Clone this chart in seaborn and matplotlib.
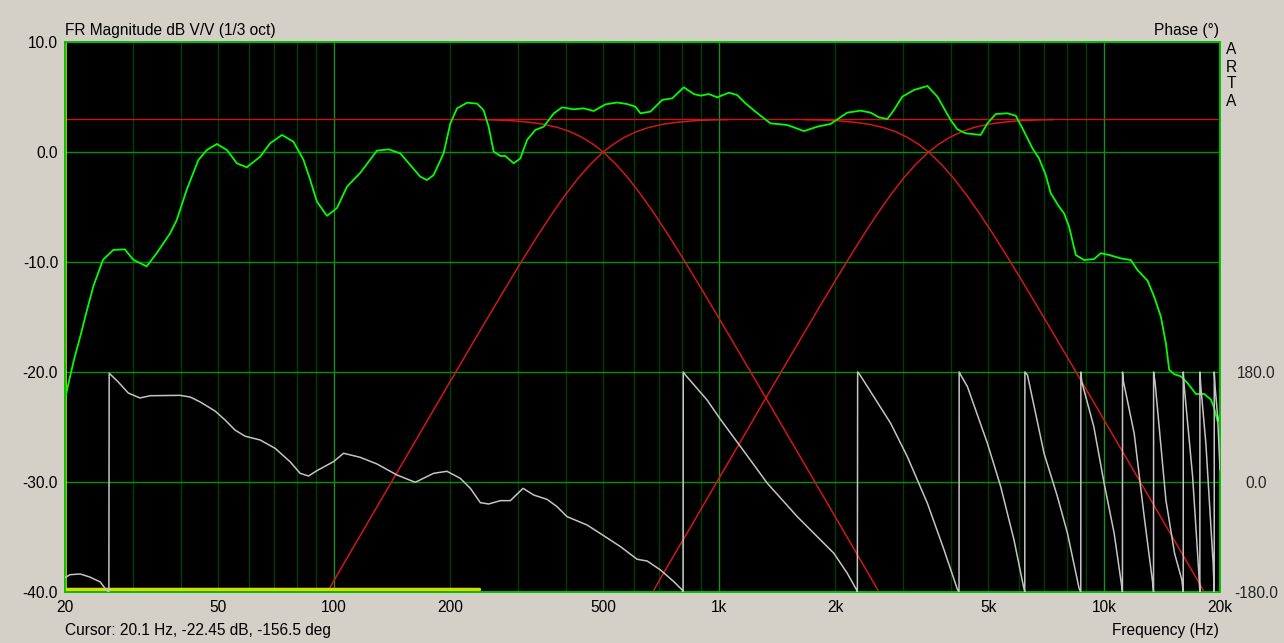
import matplotlib
matplotlib.use("Agg")
import matplotlib.pyplot as plt
import numpy as np
import pandas as pd
import seaborn as sns

# ---------------- data ----------------
mag_freq = [20.0, 20.6, 21.1, 21.9, 22.8, 23.7, 25.1, 26.7, 28.6, 30.1, 32.6, 34.6, 37.5, 39.0,
            41.4, 44.4, 46.7, 49.6, 52.7, 55.9, 59.3, 64.3, 68.2, 73.2, 78.4, 83.3, 86.7, 90.2,
            95.8, 101.7, 108.0, 116.9, 129.2, 138.5, 148.5, 157.7, 167.4, 174.2, 181.3, 192.5,
            200.4, 208.6, 221.4, 235.1, 244.5, 252.0, 259.7, 270.3, 278.5, 292.7, 304.6, 317.1,
            333.2, 350.2, 371.8, 391.0, 419.2, 445.0, 472.4, 506.6, 543.4, 576.9, 606.3, 624.7,
            663.2, 711.4, 755.4, 809.8, 859.6, 894.8, 940.2, 988.6, 1060, 1114, 1171, 1243,
            1307, 1361, 1444, 1503, 1564, 1661, 1799, 1948, 2028, 2153, 2331, 2475, 2601, 2735,
            2845, 2992, 3207, 3476, 3690, 3839, 3995, 4158, 4370, 4780, 4976, 5230, 5610, 5895,
            6137, 6515, 6776, 7054, 7268, 7638, 7871, 8110, 8442, 8872, 9419, 9804, 10300,
            11050, 11730, 12210, 12970, 13490, 14040, 14470, 14760, 15210, 15830, 16470,
            17310, 18200, 18940, 19320, 19720, 19990]
mag_db = [-22.45, -20.45, -18.9, -16.8, -14.4, -12.2, -9.8, -8.9, -8.85, -9.8, -10.4, -9.2, -7.4, -6.2,
          -3.45, -0.73, 0.18, 0.73, 0.18, -1.03, -1.39, -0.42, 0.79, 1.55, 0.94, -0.73, -2.55, -4.5,
          -5.8, -5.1, -3.15, -1.9, 0.12, 0.24, -0.12, -1.18, -2.24, -2.55, -2.1, -0.12,
          2.6, 3.97, 4.48, 4.4, 3.8, 2.3, 0.03, -0.36, -0.36, -1.03, -0.58, 1.1,
          2.0, 2.3, 3.5, 4.06, 3.88, 3.97, 3.73, 4.33, 4.5, 4.36, 4.12, 3.52,
          3.67, 4.73, 4.88, 5.88, 5.27, 5.12, 5.27, 4.97, 5.39, 5.18, 4.42, 3.67,
          3.06, 2.6, 2.52, 2.45, 2.24, 1.9, 2.3, 2.55, 2.97, 3.58, 3.76, 3.58, 3.15, 3.0,
          3.82, 5.03, 5.64, 6.0, 5.03, 3.97, 2.9, 2.06, 1.7, 1.55, 2.6, 3.45, 3.52, 3.3,
          2.15, 0.33, -0.58, -2.1, -3.75, -4.97, -5.58, -6.79, -9.36, -9.82, -9.73, -9.2, -9.36,
          -9.67, -9.82, -10.73, -11.7, -13.15, -14.97, -17.4, -19.8, -20.2, -20.4, -21.0,
          -22.0, -22.0, -22.5, -23.3, -24.5, -23.9]

phase_freq = [20.0, 20.6, 21.9, 23.2, 24.7, 25.6, 26.0, 26.05, 27.5, 29.2, 31.3, 33.3, 39.8, 42.3,
              44.9, 49.1, 52.1, 55.3, 58.7, 64.3, 70.3, 76.9, 81.6, 85.8, 90.2, 99.6, 105.8,
              116.9, 129.2, 145.6, 162.5, 181.3, 196.4, 212.7, 225.9, 239.8, 252.0, 270.3, 286.9,
              309.6, 329.9, 357.4, 379.4, 402.8, 454.2, 501.4, 554.4, 612.7, 650.5, 704.4, 762.6,
              802, 806.5, 807, 817.8, 877, 931, 1004, 1137, 1334, 1596, 1987, 2153, 2276,
              2286, 2290, 2314, 2475, 2790, 3083, 3476, 3839, 4158, 4199, 4203, 4242, 4416,
              4976, 5389, 5835, 6174, 6222, 6226, 6324, 6982, 7565, 8033, 8610, 8698, 8702,
              8750, 9404, 10000, 10620, 11100, 11160, 11165, 11230, 11970, 12710, 13360, 13440,
              13445, 13560, 14470, 15240, 15920, 16050, 16055, 16150, 16980, 17600, 17730,
              17735, 17820, 18380, 18940, 19200, 19320, 19325, 19420, 19720, 20000]
phase_deg = [-156.5, -151.7, -150.5, -155.5, -163.6, -176.7, -180, 178, 163.6, 145.6, 137.5, 141.2, 141.8, 139,
             131, 116, 101.5, 85, 75, 68.7, 55, 33, 14.2, 9.8, 18.5, 33.2, 47,
             40.4, 29.5, 11.5, -0.5, 14.2, 17.5, 6, -10.4, -33.8, -36, -30.5, -30.5,
             -10.4, -21.3, -28.4, -40.4, -56.7, -70.4, -87.8, -105.8, -126.5, -129.3, -144, -163,
             -176.7, -180, 180, 175, 153, 134, 104, 57.8, -2, -56.7, -116.7, -149.5, -176.7,
             -180, 180, 176.7, 147.8, 96, 41.4, -34.9, -111, -175.6, -180, 180, 175, 156,
             63.3, -7.7, -95, -171, -180, 180, 175, 47, -24, -84, -174, -180, 180,
             164, 90.5, -2, -84, -168.5, -180, 180, 164, 79.6, -56.7, -163, -180,
             180, 164, -29.5, -116.7, -160, -180, 180, 156, 8.7, -144, -180,
             180, 158.7, 63, -73, -133, -180, 180, 156, 107, 19.6]

target_db = [2.95, 2.92, 2.84, 2.71, 2.52, 2.24, 1.85, 1.34, 0.72, 0.0, -1.13, -2.36, -3.99, -5.65,
             -7.61, -9.50, -11.59, -13.82, -16.14, -18.51, -20.89, -23.46, -25.98, -28.58, -31.23,
             -33.89, -36.54, -39.15, -40.0]
lp_low_freq = [237, 260, 290, 320, 350, 380, 410, 440, 470, 500, 540, 580, 630, 680, 740, 800, 870,
               950, 1040, 1140, 1250, 1380, 1520, 1680, 1860, 2060, 2280, 2520, 2600]
hp_mid_freq = [96.2, 99.2, 109.6, 121.4, 134.4, 148.8, 164.5, 181.2, 200.0, 219.3, 240.4, 263.2,
               287.4, 312.5, 337.8, 367.6, 396.8, 431.0, 463.0, 500.0, 531.9, 568.2, 609.8, 657.9,
               714.3, 781.3, 862.1, 961.5, 1055]
lp_mid_freq = [1659, 1820, 2030, 2240, 2450, 2660, 2870, 3080, 3290, 3500, 3780, 4060, 4410, 4760,
               5180, 5600, 6090, 6650, 7280, 7980, 8750, 9660, 10640, 11760, 13020, 14420, 15960,
               17640, 18200]
hp_high_freq = [673, 694, 767, 850, 941, 1042, 1152, 1268, 1400, 1535, 1683, 1842, 2012, 2188, 2365,
                2573, 2778, 3017, 3241, 3500, 3723, 3977, 4269, 4605, 5000, 5469, 6035, 6731, 7384]
target_level = 3.0

window_freq = [20.0, 238.0]
window_db = [-39.7, -39.7]
cursor_freq = 20.1

x_ticks = [20, 50, 100, 200, 500, 1000, 2000, 5000, 10000, 20000]
x_labels = ["20", "50", "100", "200", "500", "1k", "2k", "5k", "10k", "20k"]
y_ticks = [10, 0, -10, -20, -30, -40]
y_labels = ["10.0", "0.0", "-10.0", "-20.0", "-30.0", "-40.0"]
ph_ticks = [180, 0, -180]
ph_labels = ["180.0", "0.0", "-180.0"]

# ---------------- style ----------------
sns.set_style("dark")
plt.rcParams["font.family"] = ["Liberation Sans", "DejaVu Sans"]
FS = 11.2
plt.rcParams["font.size"] = FS

BG = "#D4D0C8"
W, H = 1284, 643
fig = plt.figure(figsize=(W / 100, H / 100), dpi=100, facecolor=BG)
ax = fig.add_axes([65 / W, 51 / H, 1155 / W, 550 / H])
ax.set_facecolor("black")
ax.set_xscale("log")
ax.set_xlim(20, 20000)
ax.set_ylim(-40, 10)
ax.grid(False)

# grid
grid_f = [m * 10 ** e for e in range(1, 5) for m in range(1, 10)]
for f in grid_f:
    if 20 < f < 20000:
        col = "#1E8C1E" if f in (100, 1000, 10000) else "#003E00"
        ax.axvline(f, color=col, lw=1, zorder=1)
for yv in [0, -10, -20, -30]:
    ax.axhline(yv, color="#009400", lw=1, zorder=1)

# target level line
ax.axhline(target_level, color="#C81414", lw=1, zorder=2)

# filter targets
df_t = pd.DataFrame({
    "f": lp_low_freq + hp_mid_freq + lp_mid_freq + hp_high_freq,
    "db": target_db + target_db[::-1] + target_db + target_db[::-1],
    "curve": ["lp1"] * 29 + ["hp1"] * 29 + ["lp2"] * 29 + ["hp2"] * 29,
})
sns.lineplot(data=df_t, x="f", y="db", units="curve", estimator=None, sort=False,
             color="#D01818", lw=1.1, ax=ax, zorder=3, legend=False)

# window marker & cursor
sns.lineplot(x=window_freq, y=window_db, color="#DADA00", lw=2.5, ax=ax, zorder=3,
             estimator=None, sort=False, legend=False)
ax.axvline(cursor_freq, color="#DADA00", lw=1.2, zorder=3)

# magnitude
sns.lineplot(x=mag_freq, y=mag_db, color="#00FF00", lw=1.3, ax=ax, zorder=5,
             estimator=None, sort=False, legend=False)

# phase
ax2 = ax.twinx()
ax2.set_ylim(-180, 720)
ax2.grid(False)
sns.lineplot(x=phase_freq, y=phase_deg, color="#C4C4C4", lw=1.1, ax=ax2, zorder=4,
             estimator=None, sort=False, legend=False)
ax2.set_xlim(20, 20000)

# ticks
ax.set_xticks(x_ticks)
ax.set_xticklabels(x_labels)
ax.set_xticks([], minor=True)
ax.set_yticks(y_ticks)
ax.set_yticklabels(y_labels)
ax.tick_params(axis="both", length=0, labelsize=FS, colors="black")
ax.tick_params(axis="x", pad=6)
ax.tick_params(axis="y", pad=5)
ax.set_xlabel("")
ax.set_ylabel("")
ax2.set_yticks(ph_ticks)
ax2.set_yticklabels(ph_labels)
ax2.tick_params(axis="y", length=0, labelsize=FS, pad=26)
for lab in ax2.get_yticklabels():
    lab.set_horizontalalignment("center")
ax2.set_ylabel("")

for a in (ax, ax2):
    for s in a.spines.values():
        s.set_color("#00C000")
        s.set_linewidth(1.2)
        s.set_visible(True)

# texts
def ftxt(x, y, s, **kw):
    fig.text(x / W, 1 - y / H, s, va="center", fontsize=FS, color="black", **kw)

ftxt(65, 30, "FR Magnitude dB V/V (1/3 oct)", ha="left")
ftxt(1219, 30, "Phase (°)", ha="right")
for ch, yy in zip("ARTA", [50, 67, 84, 101]):
    ftxt(1231, yy, ch, ha="center")
ftxt(65, 631, "Cursor: 20.1 Hz, -22.45 dB, -156.5 deg", ha="left")
ftxt(1219, 631, "Frequency (Hz)", ha="right")

fig.savefig("out.png", dpi=100, facecolor=BG)
